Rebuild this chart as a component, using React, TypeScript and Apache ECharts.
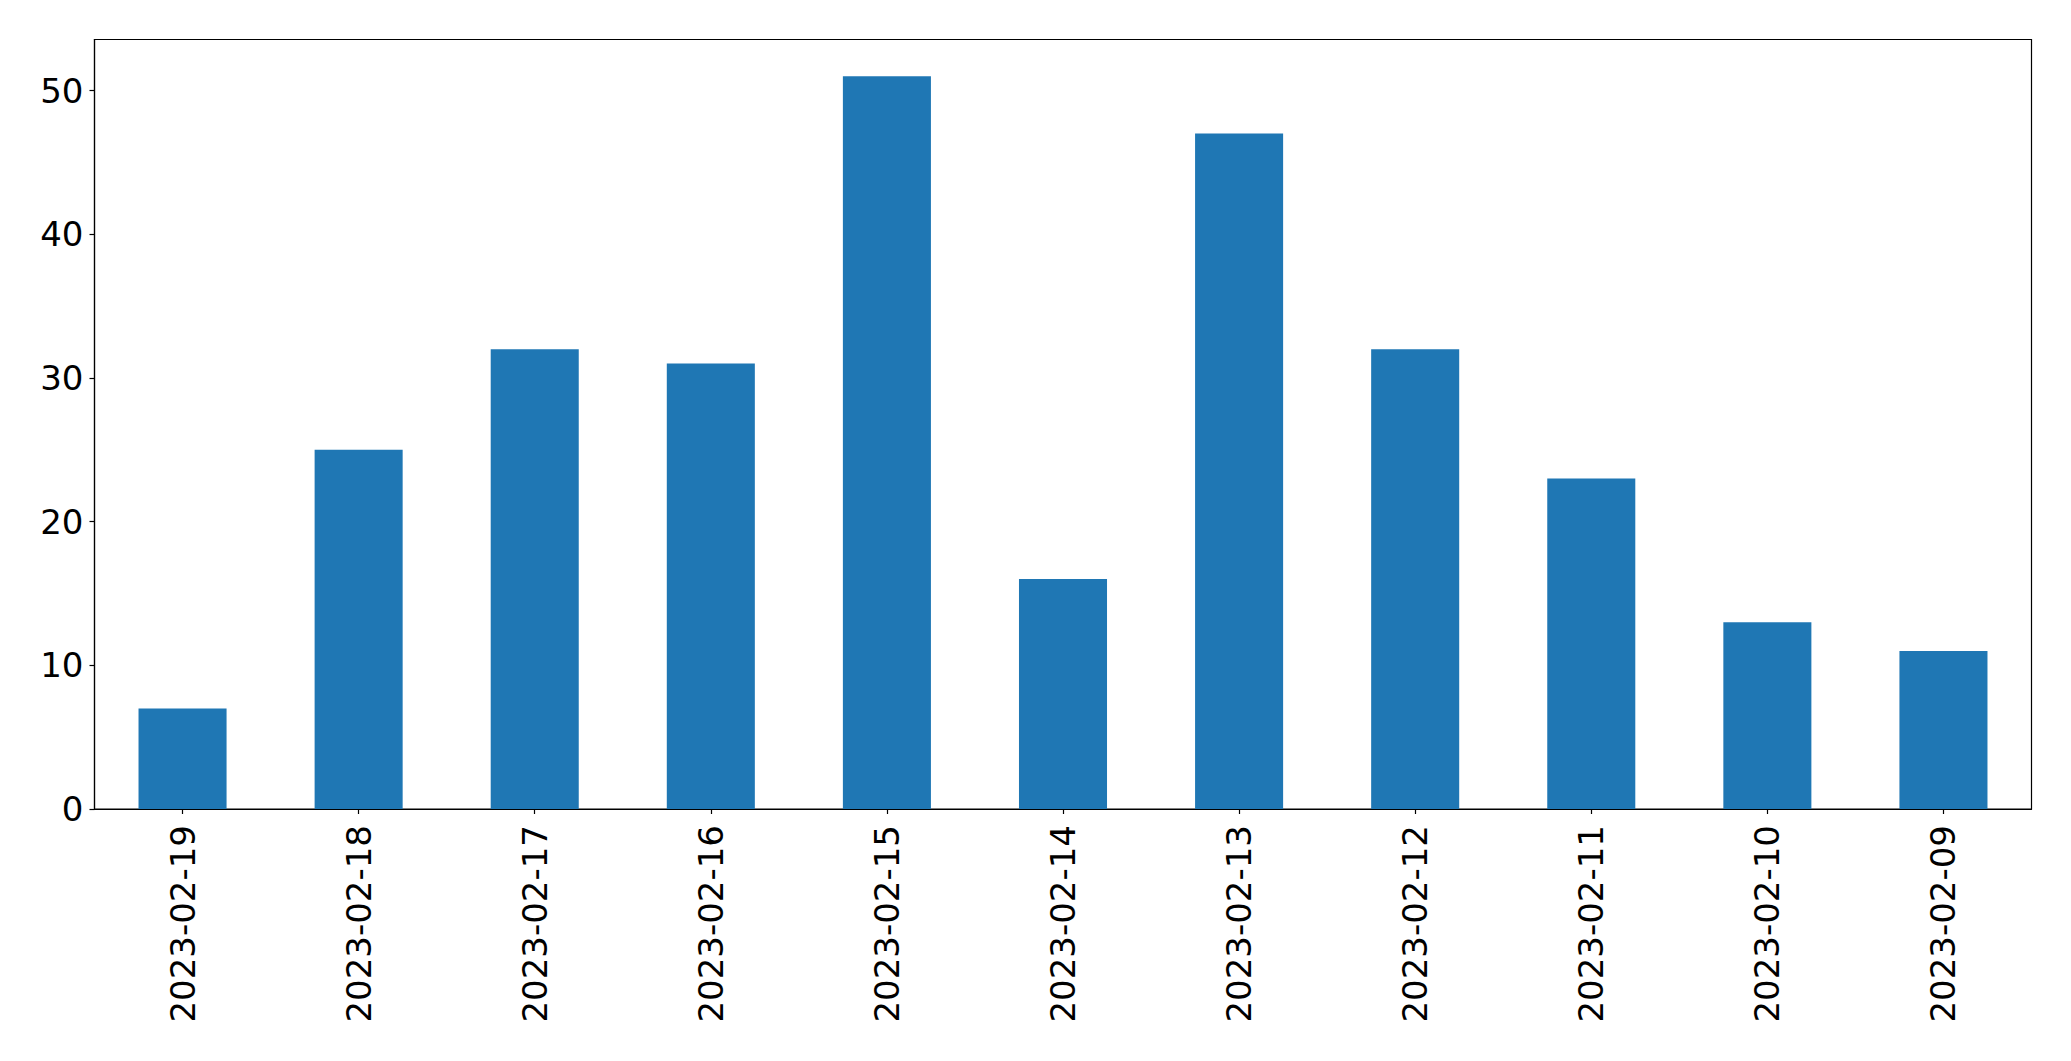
import React, { useEffect, useRef } from "react";
import * as echarts from "echarts";

const categories = [
  "2023-02-19", "2023-02-18", "2023-02-17", "2023-02-16", "2023-02-15", "2023-02-14",
  "2023-02-13", "2023-02-12", "2023-02-11", "2023-02-10", "2023-02-09",
];
const values = [7, 25, 32, 31, 51, 16, 47, 32, 23, 13, 11];
const yTicks = [0, 10, 20, 30, 40, 50];

export default function App() {
  const ref = useRef<HTMLDivElement>(null);
  useEffect(() => {
    const chart = echarts.init(ref.current!, null, { renderer: "svg" });
    const font = "DejaVu Sans";
    chart.setOption({
      animation: false,
      backgroundColor: "#ffffff",
      grid: {
        left: 94.5,
        top: 39.5,
        width: 1937,
        height: 769.5,
        show: true,
        borderColor: "#000000",
        borderWidth: 1.2,
        backgroundColor: "transparent",
      },
      xAxis: {
        type: "category",
        data: categories,
        boundaryGap: true,
        axisLine: { show: true, lineStyle: { color: "#000000", width: 1.2 } },
        axisTick: { show: true, alignWithLabel: true, length: 5, lineStyle: { color: "#000000", width: 1.2 } },
        axisLabel: {
          rotate: 90,
          fontSize: 34,
          fontFamily: font,
          color: "#000000",
          margin: 16,
          interval: 0,
        },
        splitLine: { show: false },
      },
      yAxis: {
        type: "value",
        min: 0,
        max: 53.55,
        interval: 10,
        axisLine: { show: true, lineStyle: { color: "#000000", width: 1.2 } },
        axisTick: { show: true, length: 5, customValues: yTicks, lineStyle: { color: "#000000", width: 1.2 } },
        axisLabel: {
          fontSize: 34,
          fontFamily: font,
          color: "#000000",
          margin: 11,
          customValues: yTicks,
        },
        splitLine: { show: false },
      },
      series: [
        {
          type: "bar",
          data: values,
          barWidth: "50%",
          itemStyle: { color: "#1f77b4" },
        },
      ],
    });
    return () => chart.dispose();
  }, []);
  return (
    <div
      ref={ref}
      style={{ position: "fixed", left: 0, top: 0, width: 2071, height: 1061, background: "#fff" }}
    />
  );
}
